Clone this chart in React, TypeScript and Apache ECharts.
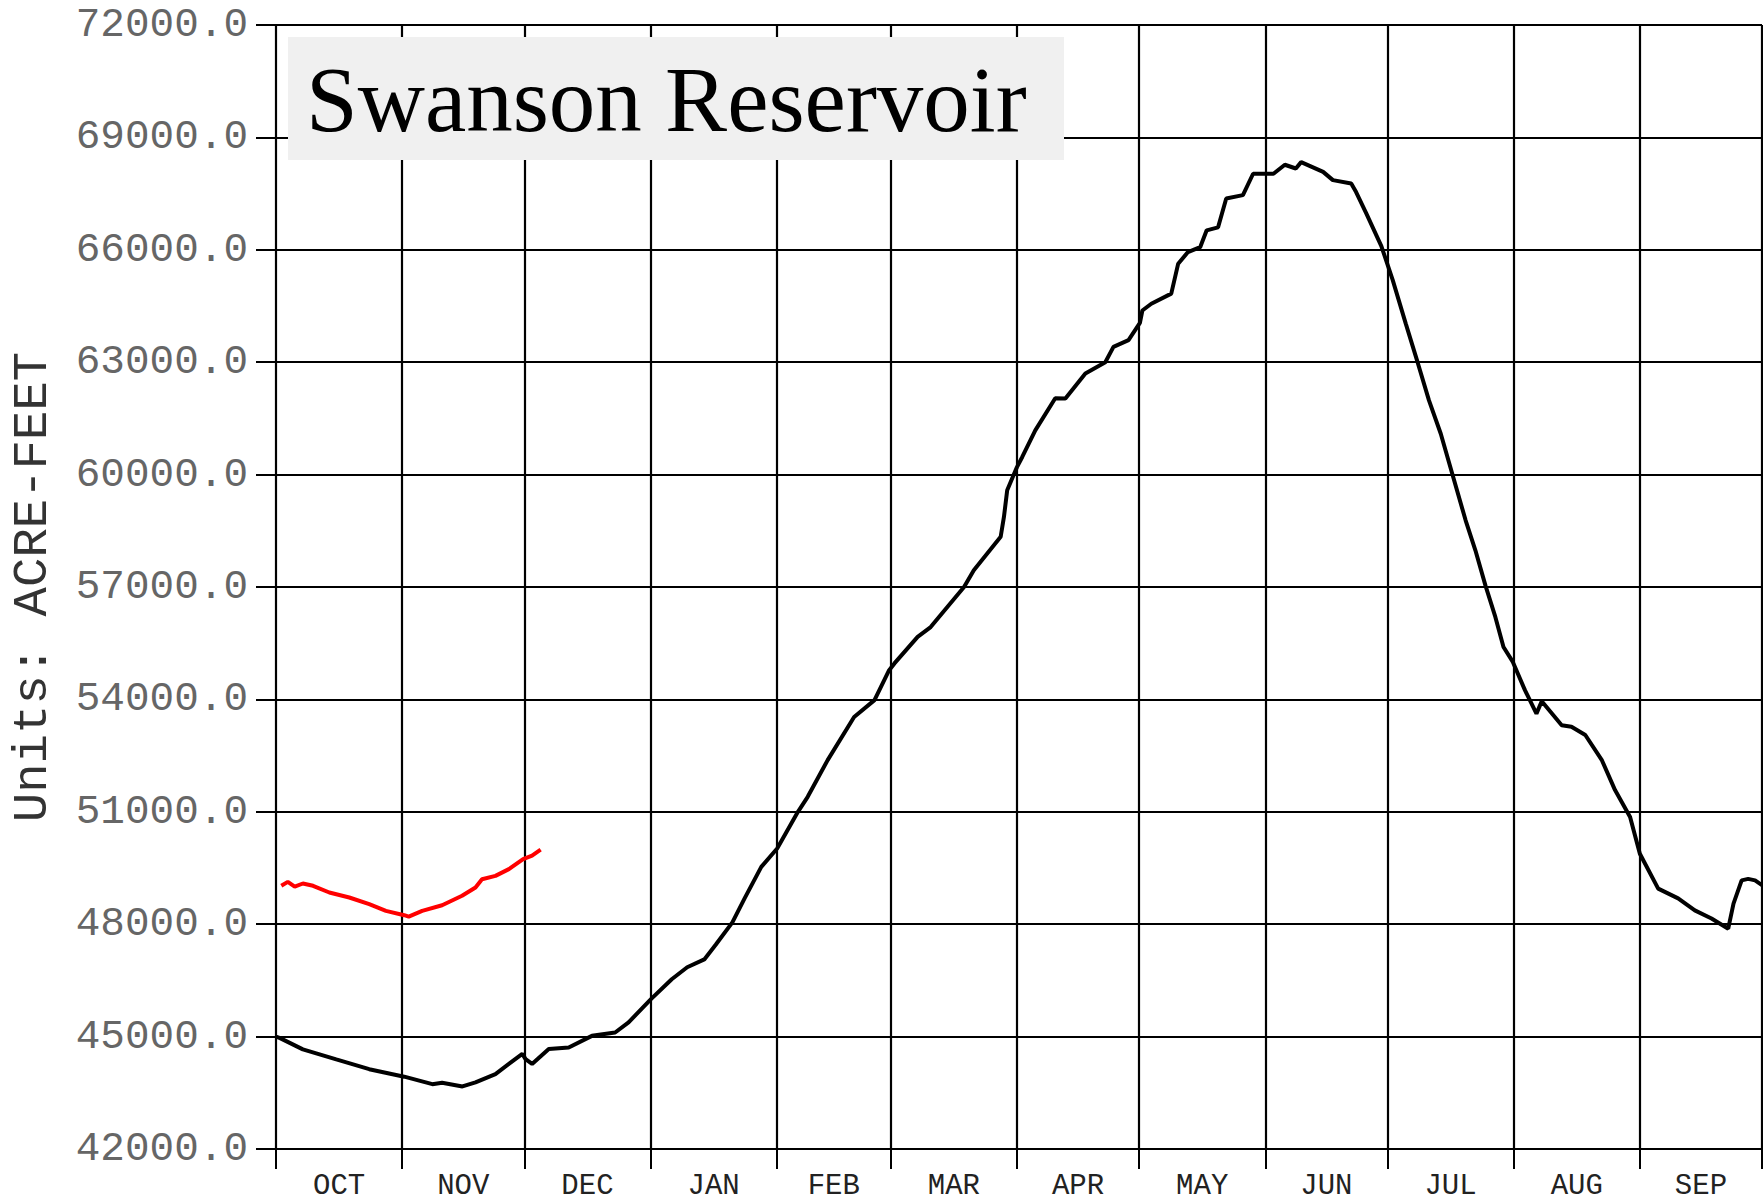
import React, { useEffect, useRef } from "react";
import * as echarts from "echarts";

// Water-year day (0 = Oct 1) boundaries of each month
const monthStarts = [0, 31, 61, 92, 123, 151, 182, 212, 243, 273, 304, 335, 365];
const monthNames = ["OCT", "NOV", "DEC", "JAN", "FEB", "MAR", "APR", "MAY", "JUN", "JUL", "AUG", "SEP"];

// Historical storage (black line)
const histDays = [
  0, 1, 6.6, 14.8, 22.9, 31.5, 38.4, 40.8, 45.8, 49, 53.9, 60.5, 61.3, 62.9, 67, 71.9, 77.6, 83.3, 86.6,
  92.1, 97.2, 101, 105.2, 108, 112.1, 115.1, 119.2, 123.1, 128.2, 130.6, 135.5, 142, 147, 150.6, 151.9,
  157.6, 160.8, 169, 171.4, 178, 178.8, 179.6, 182, 183.3, 186.5, 191.4, 193.9, 198.8, 203.7, 205.7,
  209.4, 212.2, 212.8, 215, 219.9, 221.6, 224, 227, 228.6, 231.4, 233.4, 237.5, 240, 245, 247.8, 250.5,
  251.8, 257.2, 259.6, 264.1, 265.3, 267.8, 271.5, 274.3, 277.5, 280.4, 283.2, 286.1, 288.9, 292.2,
  294.6, 297.1, 299.5, 301.5, 303.8, 306.8, 309.6, 310.9, 315.8, 318.2, 321.6, 325.7, 328.9, 332.6,
  335, 339.5, 344.4, 348.5, 352.6, 356.7, 358, 360, 361.6, 363.3, 365,
];
const histValues = [
  45000, 44960, 44660, 44390, 44130, 43930, 43730, 43770, 43670, 43780, 44000, 44540, 44400, 44270, 44670, 44710, 45020, 45110, 45380,
  46000, 46530, 46850, 47060, 47450, 48050, 48690, 49530, 50020, 51000, 51400, 52380, 53530, 53980, 54780, 54960,
  55670, 55930, 57000, 57450, 58340, 58870, 59580, 60200, 60470, 61180, 62036, 62030, 62700, 63000, 63410,
  63590, 64050, 64380, 64560, 64830, 65630, 65940, 66070, 66520, 66600, 67370, 67460, 68030, 68030, 68270, 68170,
  68340, 68080, 67860, 67770, 67540, 66970, 66100, 65190, 64030, 63000, 61980, 61090, 60030, 58780,
  57980, 57030, 56200, 55400, 55000, 54240, 53620, 53950, 53310, 53270, 53050, 52370, 51580, 50860,
  49880, 48950, 48690, 48370, 48150, 47880, 48550, 49170, 49210, 49170, 49040,
];

// Current water year storage (red line)
const currDays = [1.3, 2.9, 4.6, 6.6, 9.1, 13.1, 18, 22.9, 27, 31.5, 32.6, 35.9, 40.8, 45.7, 49, 50.6, 53.9, 57.2, 60.7, 62.9, 65];
const currValues = [49025, 49130, 49000, 49086, 49025, 48846, 48713, 48534, 48357, 48240, 48200, 48357, 48507, 48758, 48980, 49200, 49290, 49470, 49735, 49830, 49990];

const TITLE = "Swanson Reservoir";
const Y_NAME = "Units: ACRE-FEET";

const MONO = '"Liberation Mono", "DejaVu Sans Mono", monospace';

export default function App() {
  const ref = useRef<HTMLDivElement>(null);

  useEffect(() => {
    if (!ref.current) return;
    const chart = echarts.init(ref.current, undefined, { renderer: "svg" });
    const monthMids = monthStarts.slice(0, -1).map((s, i) => (s + monthStarts[i + 1]) / 2);

    chart.setOption({
      animation: false,
      backgroundColor: "#ffffff",
      grid: { left: 273, right: 1, top: 25, bottom: 52, containLabel: false },
      xAxis: {
        type: "value",
        min: 0,
        max: 365,
        axisLine: { show: true, lineStyle: { color: "#000", width: 2 } },
        axisTick: {
          show: true,
          customValues: monthStarts,
          length: 20,
          lineStyle: { color: "#000", width: 2 },
        },
        axisLabel: {
          show: true,
          customValues: monthMids,
          hideOverlap: false,
          margin: 25,
          fontFamily: MONO,
          fontSize: 29,
          lineHeight: 24,
          color: "#222",
          formatter: (v: number) => {
            const i = monthMids.findIndex((m) => Math.abs(m - v) < 0.01);
            return i >= 0 ? monthNames[i] : "";
          },
        },
        splitLine: { show: false },
      },
      yAxis: {
        type: "value",
        min: 42000,
        max: 72000,
        interval: 3000,
        name: Y_NAME,
        nameLocation: "middle",
        nameRotate: 90,
        nameGap: 219,
        nameTextStyle: { fontFamily: MONO, fontSize: 49, color: "#333" },
        axisLine: { show: true, lineStyle: { color: "#000", width: 2 } },
        axisTick: { show: true, length: 20, lineStyle: { color: "#000", width: 2 } },
        axisLabel: {
          margin: 28,
          fontFamily: MONO,
          fontSize: 41,
          color: "#666",
          formatter: (v: number) => v.toFixed(1),
        },
        splitLine: { show: true, lineStyle: { color: "#000", width: 2.2 } },
      },
      series: [
        {
          name: "history",
          type: "line",
          z: 3,
          data: histDays.map((d, i) => [d, histValues[i]]),
          showSymbol: false,
          symbol: "none",
          lineStyle: { color: "#000", width: 4 },
          markLine: {
            silent: true,
            z: 1,
            symbol: "none",
            animation: false,
            label: { show: false },
            lineStyle: { color: "#000", width: 2.2, type: "solid" },
            data: monthStarts.map((d) => ({ xAxis: d })),
          },
        },
        {
          name: "current",
          type: "line",
          z: 4,
          data: currDays.map((d, i) => [d, currValues[i]]),
          showSymbol: false,
          symbol: "none",
          lineStyle: { color: "#ff0000", width: 4 },
        },
      ],
      graphic: [
        {
          type: "rect",
          z: 100,
          shape: { x: 288, y: 37, width: 776, height: 123 },
          style: { fill: "#f0f0f0" },
        },
        {
          type: "text",
          z: 101,
          x: 306,
          y: 99,
          style: {
            text: TITLE,
            fontFamily: '"Liberation Serif", "DejaVu Serif", serif',
            fontSize: 93,
            fill: "#000",
            verticalAlign: "middle",
            align: "left",
          },
        },
      ],
    });

    return () => chart.dispose();
  }, []);

  return (
    <div
      ref={ref}
      style={{ position: "absolute", left: 0, top: 0, width: 1763, height: 1201 }}
    />
  );
}
